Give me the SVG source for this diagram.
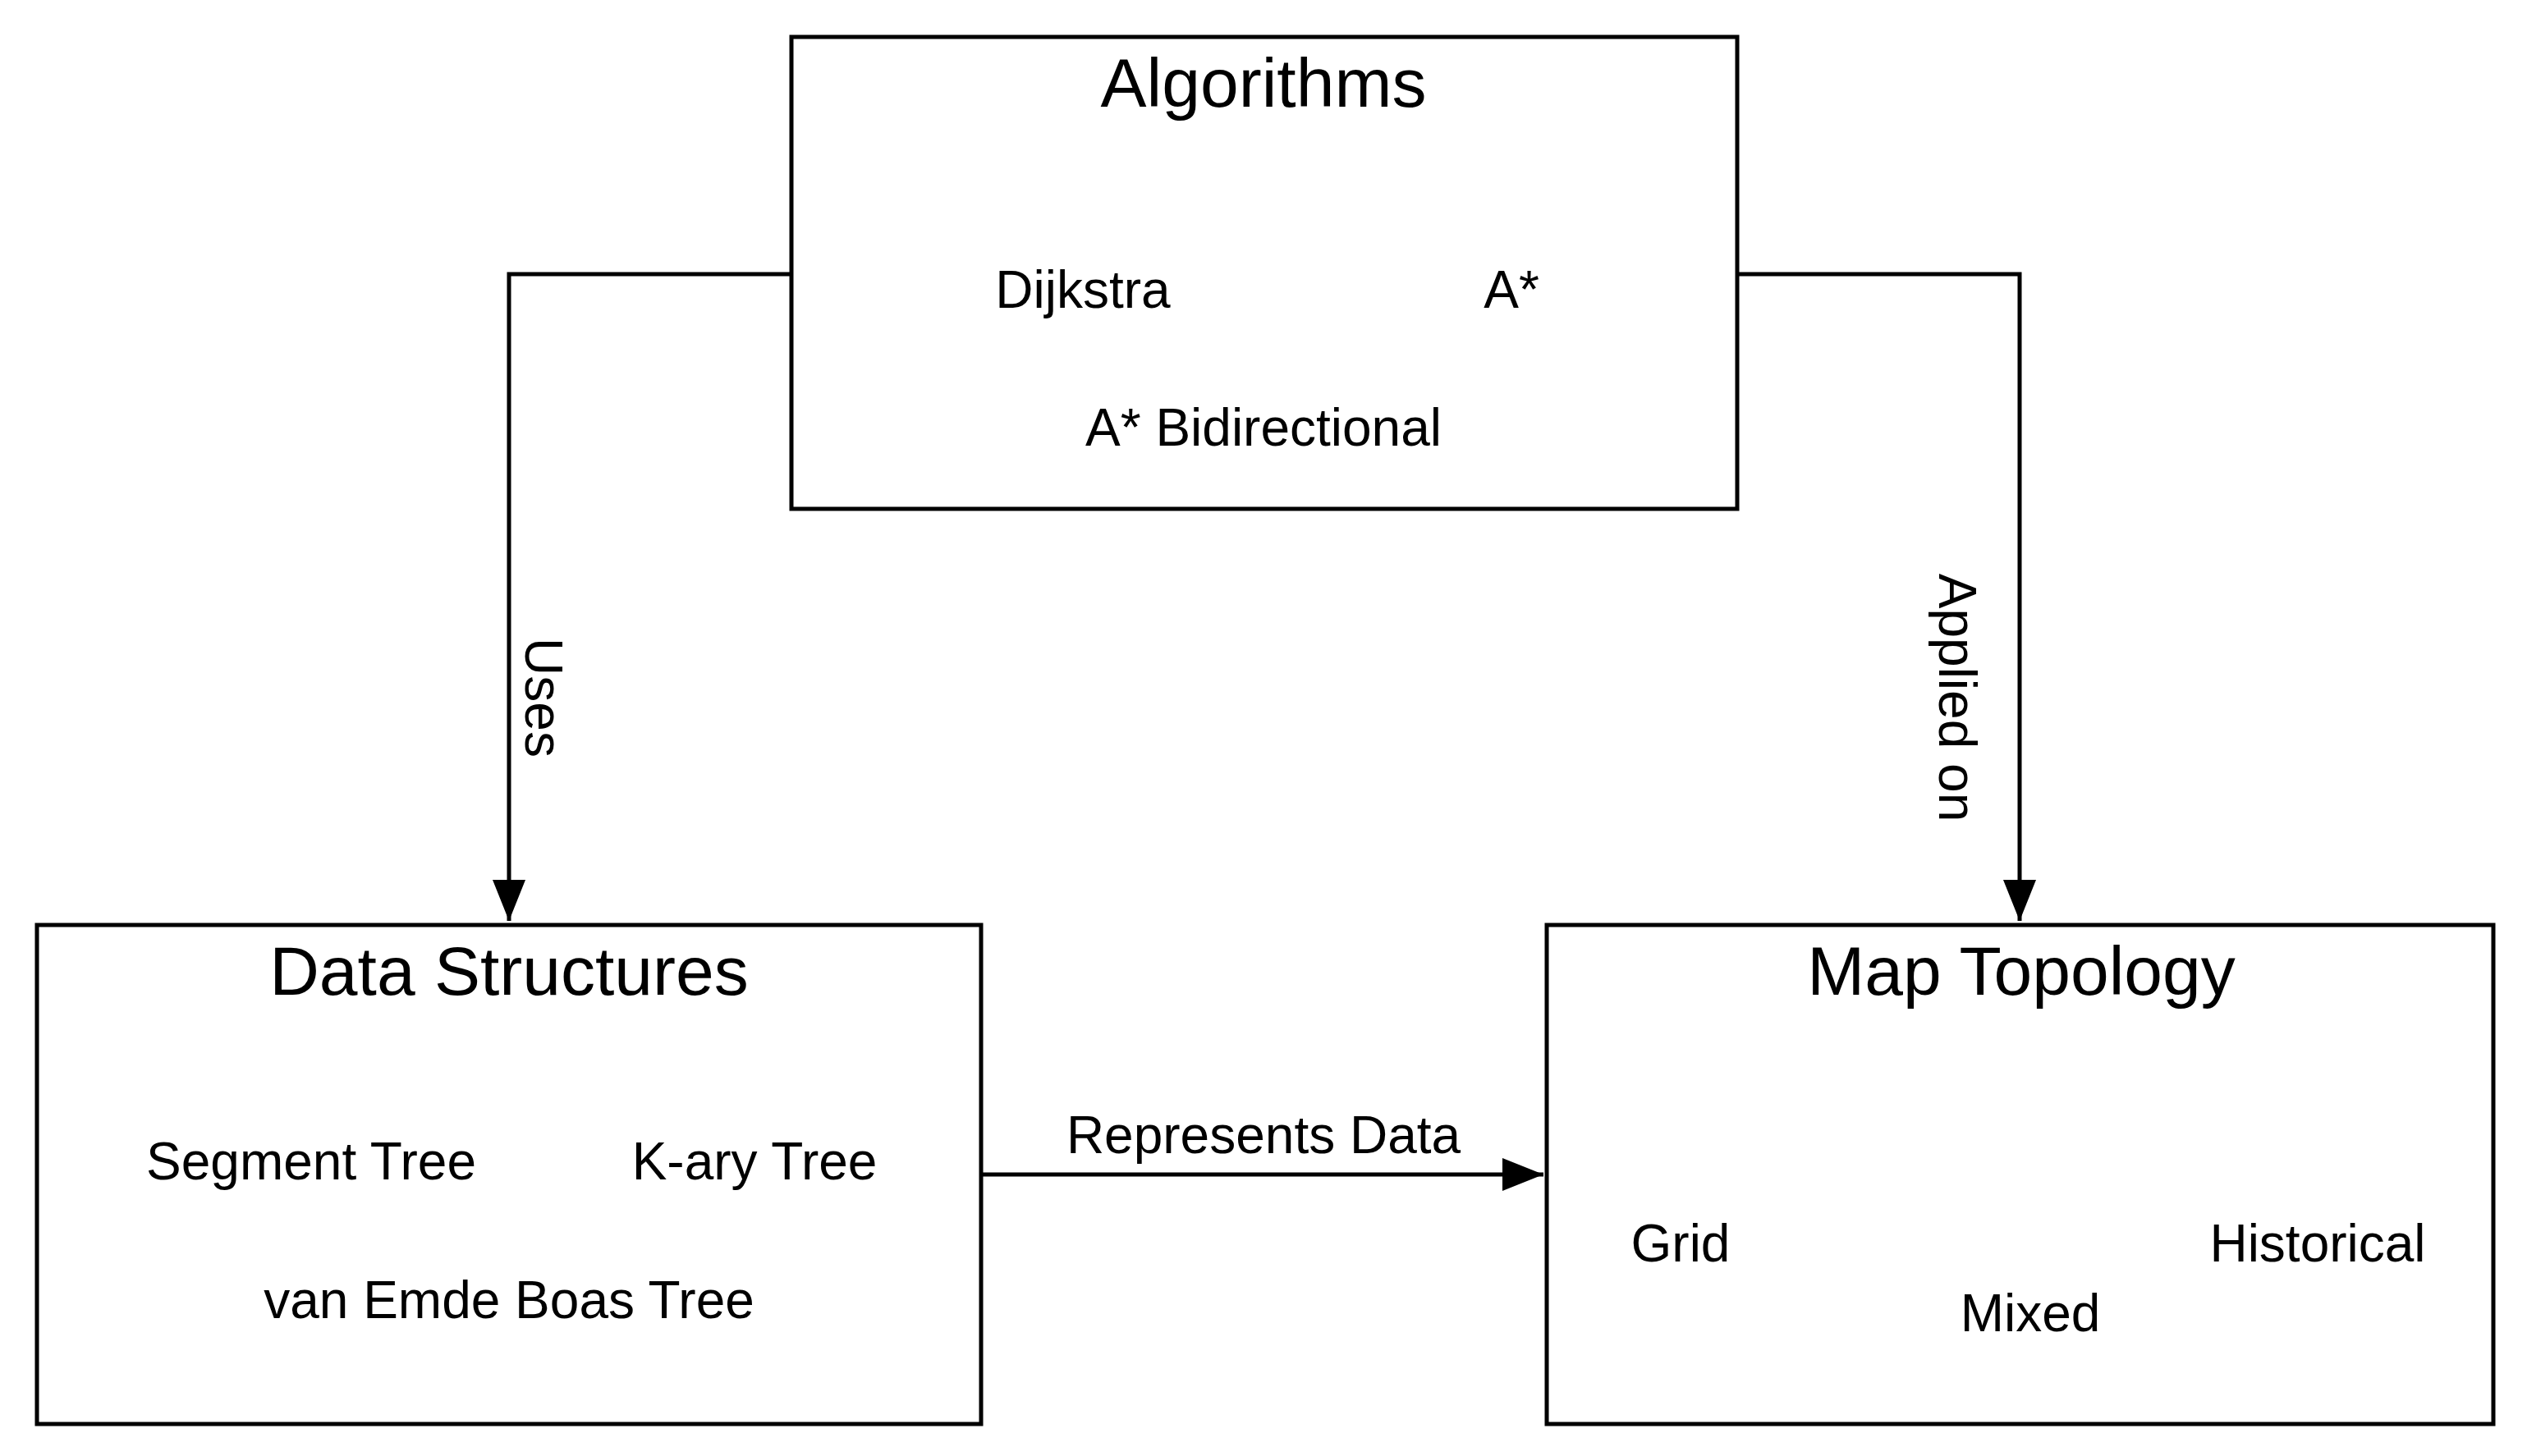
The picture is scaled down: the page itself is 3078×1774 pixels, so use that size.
<svg xmlns="http://www.w3.org/2000/svg" width="3078" height="1774" viewBox="0 0 3078 1774">
<style>
.box{fill:#fff;stroke:#000;stroke-width:5}
.t{font-family:"Liberation Sans",Arial,sans-serif;fill:#000;text-anchor:middle}
.h{font-size:84px}
.i{font-size:64px}
.e{fill:none;stroke:#000;stroke-width:5}
</style>
<defs><marker id="a" markerWidth="10" markerHeight="8" refX="10" refY="4" orient="auto" markerUnits="strokeWidth"><path d="M0,0L10,4L0,8z" fill="#000"/></marker></defs>
<rect width="3078" height="1774" fill="#fff"/>
<g id="connectors">
<path class="e" d="M964,334H620V1122" marker-end="url(#a)"/>
<path class="e" d="M2116,334H2460V1122" marker-end="url(#a)"/>
<path class="e" d="M1195,1431H1880" marker-end="url(#a)"/>
<text class="t i" transform="translate(640,850) rotate(90)">Uses</text>
<text class="t i" transform="translate(2362,850) rotate(90)">Applied on</text>
<text class="t i" x="1539" y="1405">Represents Data</text>
</g>
<g id="algorithms">
<rect class="box" x="964" y="45" width="1152" height="575"/>
<text class="t h" x="1539" y="130">Algorithms</text>
<text class="t i" x="1319" y="375">Dijkstra</text>
<text class="t i" x="1841" y="375">A*</text>
<text class="t i" x="1539" y="543">A* Bidirectional</text>
</g>
<g id="datastructures">
<rect class="box" x="45" y="1127" width="1150" height="608"/>
<text class="t h" x="620" y="1212">Data Structures</text>
<text class="t i" x="379" y="1437">Segment Tree</text>
<text class="t i" x="919" y="1437">K-ary Tree</text>
<text class="t i" x="620" y="1606">van Emde Boas Tree</text>
</g>
<g id="maptopology">
<rect class="box" x="1884" y="1127" width="1153" height="608"/>
<text class="t h" x="2462" y="1212">Map Topology</text>
<text class="t i" x="2047" y="1537">Grid</text>
<text class="t i" x="2823" y="1537">Historical</text>
<text class="t i" x="2473" y="1622">Mixed</text>
</g>
</svg>
